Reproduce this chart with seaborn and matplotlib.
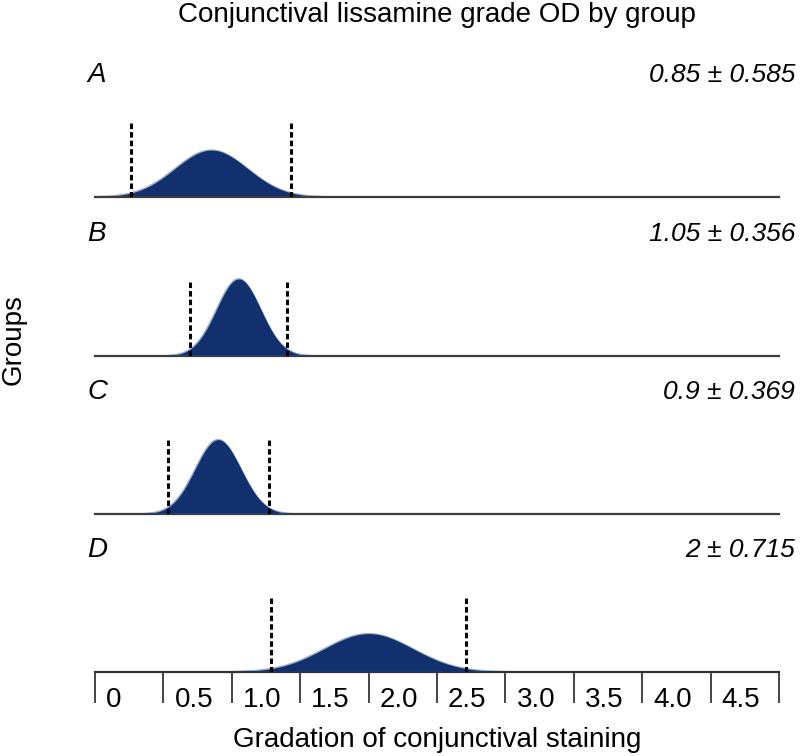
import numpy as np
import matplotlib
matplotlib.use('Agg')
import matplotlib.pyplot as plt
import matplotlib.transforms as mtransforms
import seaborn as sns

sns.set_style('white')
plt.rcParams['font.family'] = ['Liberation Sans', 'DejaVu Sans']
plt.rcParams['text.color'] = 'black'
plt.rcParams['xtick.color'] = 'black'

# Group summaries (mean +/- SD)
groups = ['A', 'B', 'C', 'D']
means = [0.85, 1.05, 0.9, 2.0]
sds = [0.585, 0.356, 0.369, 0.715]
summary_labels = ['0.85 ± 0.585', '1.05 ± 0.356', '0.9 ± 0.369', '2 ± 0.715']

# Gradation bins on the bottom axis
grade_edges = [0, 0.5, 1.0, 1.5, 2.0, 2.5, 3.0, 3.5, 4.0, 4.5, 5.0]
grade_labels = ['0', '0.5', '1.0', '1.5', '2.0', '2.5', '3.0', '3.5', '4.0', '4.5']

# Drawn bell is narrower than the SD band (dashed lines sit at mean +/- SD)
BELL_WIDTH = 1 / 2.2

FILL = '#12306e'
EDGE = '#8fb0dd'

W, H = 803, 756
baselines_px = [197, 356, 514, 672]
panel_h = 120
left_px, right_px = 95, 779
px_per_density = 31.3

fig = plt.figure(figsize=(W / 100, H / 100), dpi=100)
fs = 20

x = np.linspace(0, 5, 600)
axes = []
for i, g in enumerate(groups):
    ax = fig.add_axes([left_px / W, (H - baselines_px[i]) / H,
                       (right_px - left_px) / W, panel_h / H])
    sigma = sds[i] * BELL_WIDTH
    pdf = np.exp(-0.5 * ((x - means[i]) / sigma) ** 2) / (sigma * np.sqrt(2 * np.pi))
    ax.fill_between(x, 0, pdf, color=FILL, lw=0, zorder=2)
    sns.lineplot(x=x, y=pdf, ax=ax, color=EDGE, lw=1.0, zorder=1, legend=False)
    for v in (means[i] - sds[i], means[i] + sds[i]):
        ax.axvline(v, ymin=0, ymax=74 / panel_h, color='black', lw=2.2,
                   linestyle=(0, (1.8, 1.0)), zorder=3)
    ax.set_xlim(0, 5)
    ax.set_ylim(0, panel_h / px_per_density)
    ax.set_yticks([])
    for s in ['top', 'right', 'left']:
        ax.spines[s].set_visible(False)
    ax.spines['bottom'].set_color('#3c3c3c')
    ax.spines['bottom'].set_linewidth(1.6)
    ax.patch.set_alpha(0)
    ax.set_xticks([])

    y_lab = 1 - (baselines_px[i] - 122) / H
    fig.text(87 / W, y_lab, g, fontsize=fs, style='italic', ha='left', va='center')
    fig.text(795 / W, y_lab, summary_labels[i], fontsize=fs - 1, style='italic',
             ha='right', va='center')
    axes.append(ax)

# Bottom axis with boxed gradation labels
ax = axes[-1]
ax.spines['bottom'].set_color('#333333')
ax.set_xticks(grade_edges)
ax.set_xticklabels(grade_labels + [''])
ax.tick_params(axis='x', direction='out', length=22.3, width=1.4, color='#444444',
               pad=-11.5, labelsize=fs, bottom=True)
shift = mtransforms.ScaledTranslation(11 / 100, 0, fig.dpi_scale_trans)
for lbl in ax.get_xticklabels():
    lbl.set_horizontalalignment('left')
    lbl.set_transform(lbl.get_transform() + shift)

fig.text(437 / W, 1 - 15 / H, 'Conjunctival lissamine grade OD by group', fontsize=fs,
         ha='center', va='center')
fig.text(437 / W, 1 - 740 / H, 'Gradation of conjunctival staining', fontsize=fs,
         ha='center', va='center')
fig.text(14 / W, 1 - 340 / H, 'Groups', fontsize=fs, rotation=90,
         ha='center', va='center')

fig.savefig('out.png', dpi=100)
